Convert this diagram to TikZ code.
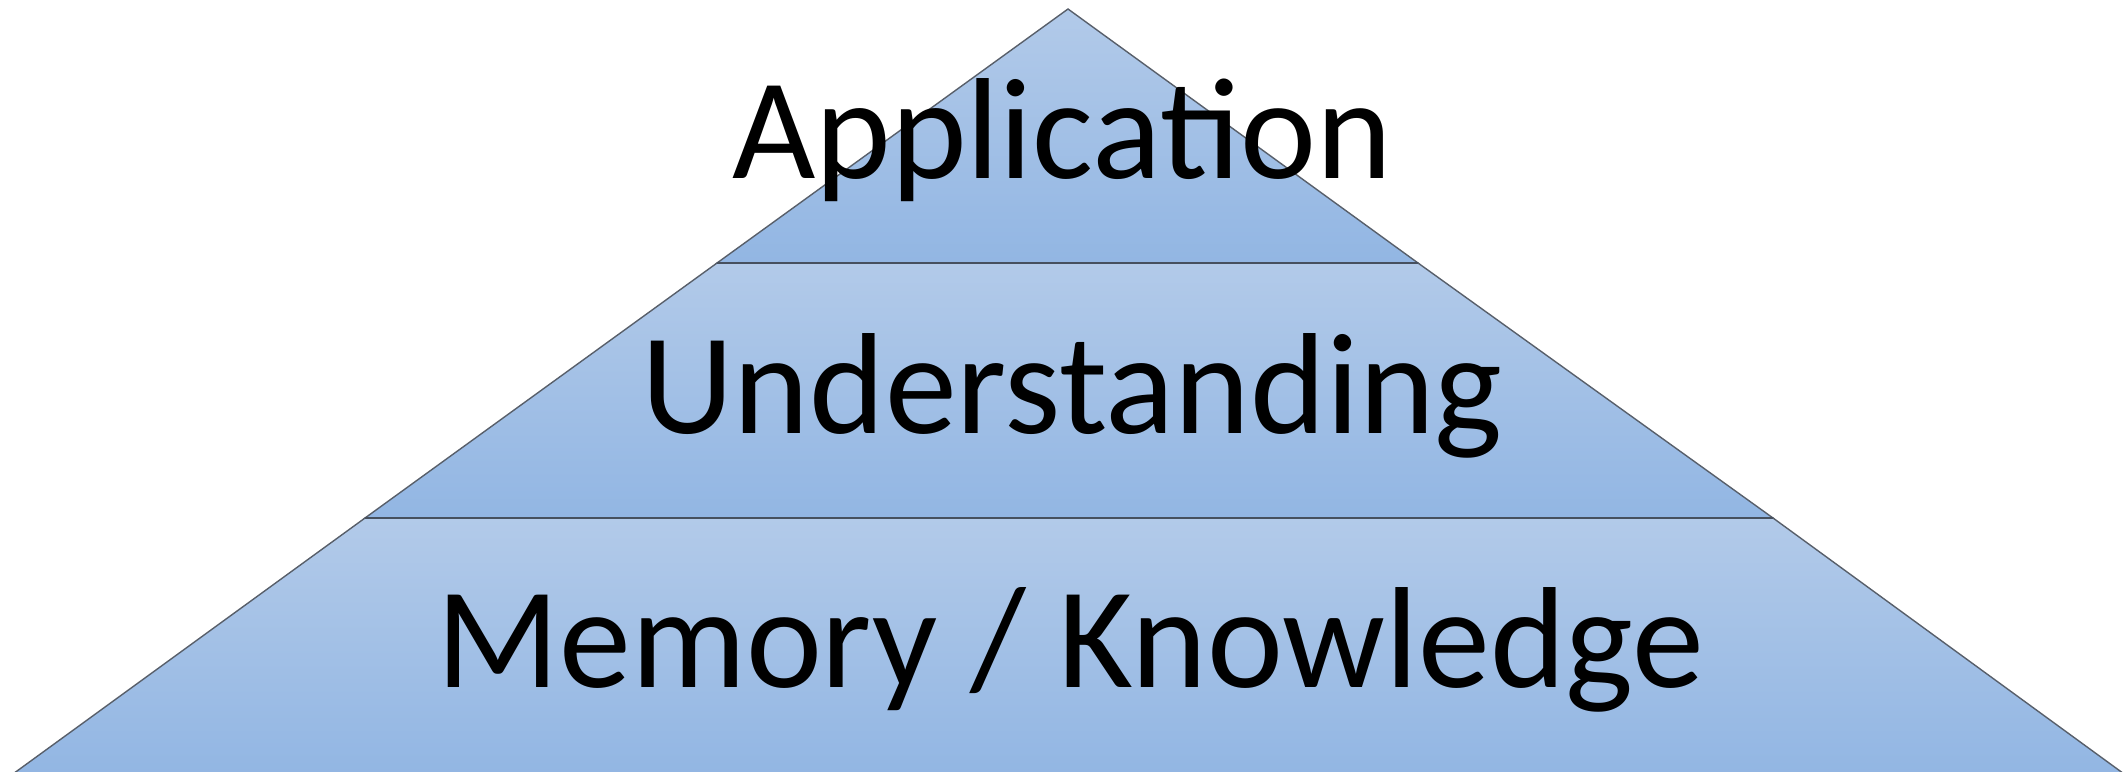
\documentclass[tikz,border=0pt]{standalone}
\usepackage{fontspec}
\setmainfont{Carlito}
\begin{document}
\begin{tikzpicture}[x=1pt,y=1pt,
  layer/.style={top color=layertop, bottom color=layerbot, shading=axis, draw=edgegray, line width=1.4pt, line join=miter},
  divider/.style={draw=divgray, line width=2pt},
  label/.style={anchor=base, inner sep=0pt, font=\fontsize{144}{144}\selectfont, text=black}]
\definecolor{layertop}{RGB}{178,202,233}
\definecolor{layerbot}{RGB}{146,182,227}
\definecolor{edgegray}{RGB}{88,95,106}
\definecolor{divgray}{RGB}{70,80,94}
\useasboundingbox (0,0) rectangle (2125,-771);
\coordinate (apex) at (1068,-9);
\coordinate (l1) at (717,-263);
\coordinate (r1) at (1418,-263);
\coordinate (l2) at (365,-518);
\coordinate (r2) at (1773,-518);
\coordinate (l3) at (11.5,-775);
\coordinate (r3) at (2125.5,-775);
% layers
\path[layer] (l3) -- (l2) -- (r2) -- (r3) -- cycle;
\path[layer] (l2) -- (l1) -- (r1) -- (r2) -- cycle;
\path[layer] (l1) -- (apex) -- (r1) -- cycle;
\draw[divider] (l1) -- (r1);
\draw[divider] (l2) -- (r2);
% labels
\node[label] (app) at (1062,-178) {Application};
\node[label] (und) at (1072,-433) {Understanding};
\node[label] (mem) at (1070,-687) {Memory / Knowledge};
\end{tikzpicture}
\end{document}
